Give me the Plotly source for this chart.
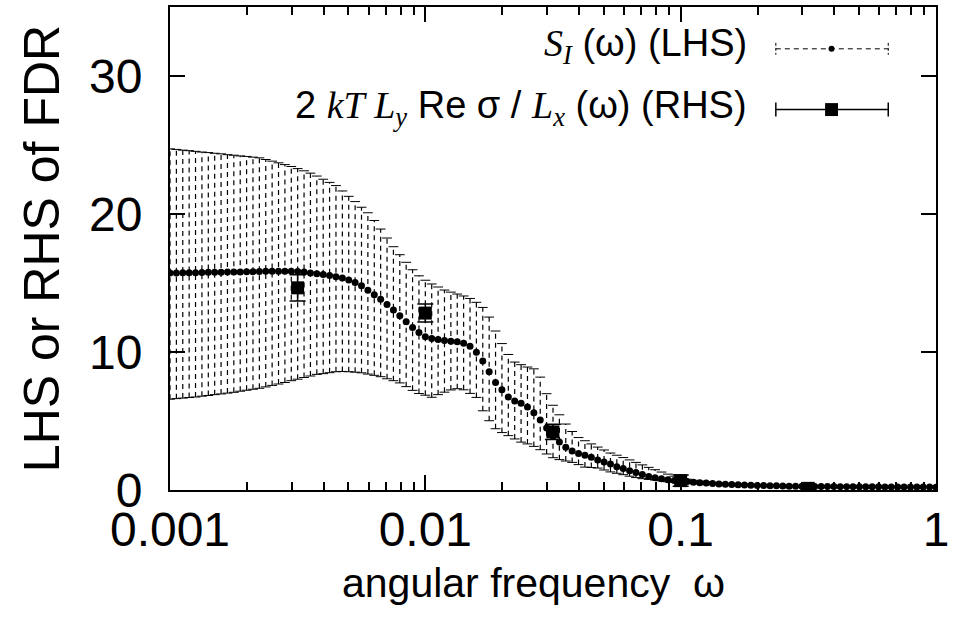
import numpy as np
import plotly.graph_objects as go

# ---------------- data ----------------
# LHS: S_I(omega) sampled on a regular log grid (40 points per decade, 0.001 .. 1)
omega_lhs = np.logspace(-3, 0, 121)

lhs_center = [15.72, 15.73, 15.74, 15.74, 15.75, 15.76, 15.77, 15.77, 15.78, 15.79,
              15.79, 15.80, 15.81, 15.82, 15.83, 15.85, 15.85, 15.86, 15.86, 15.85,
              15.83, 15.79, 15.73, 15.67, 15.61, 15.54, 15.45, 15.36, 15.22, 15.04,
              14.80, 14.48, 14.15, 13.82, 13.45, 13.05, 12.63, 12.19, 11.78, 11.42,
              11.10, 10.97, 10.90, 10.84, 10.77, 10.75, 10.63, 10.42, 9.98, 9.35,
              8.57, 7.79, 7.26, 6.74, 6.45, 6.29, 6.01, 5.60, 5.08, 4.50,
              3.90, 3.47, 3.09, 2.83, 2.65, 2.52, 2.37, 2.18, 2.03, 1.89,
              1.68, 1.55, 1.40, 1.26, 1.12, 0.98, 0.88, 0.81, 0.74, 0.69,
              0.65, 0.61, 0.57, 0.53, 0.50, 0.47, 0.44, 0.42, 0.40, 0.38,
              0.36, 0.35, 0.33, 0.32, 0.31, 0.30, 0.29, 0.28, 0.28, 0.27,
              0.26, 0.26, 0.25, 0.25, 0.25, 0.24, 0.24, 0.24, 0.23, 0.23,
              0.23, 0.23, 0.22, 0.22, 0.22, 0.22, 0.21, 0.21, 0.21, 0.21, 0.20]

lhs_upper = [24.72, 24.68, 24.63, 24.59, 24.54, 24.49, 24.45, 24.40, 24.36, 24.30,
             24.26, 24.21, 24.17, 24.12, 24.07, 23.95, 23.83, 23.71, 23.58, 23.44,
             23.29, 23.13, 22.96, 22.75, 22.52, 22.29, 22.06, 21.67, 21.28, 20.90,
             20.49, 20.09, 19.53, 18.91, 18.26, 17.63, 17.05, 16.50, 15.96, 15.52,
             15.20, 14.93, 14.71, 14.49, 14.34, 14.20, 14.06, 13.88, 13.60, 13.23,
             12.53, 11.52, 10.61, 9.82, 9.27, 9.08, 8.91, 8.78, 8.18, 6.98,
             6.14, 5.45, 4.78, 4.24, 3.80, 3.57, 3.34, 3.11, 2.90, 2.68,
             2.52, 2.35, 2.18, 2.00, 1.82, 1.64, 1.47, 1.30, 1.15, 1.00,
             0.86, 0.78, 0.70, 0.64, 0.59, 0.55, 0.51, 0.48, 0.46, 0.44,
             0.42, 0.40, 0.39, 0.37, 0.36, 0.35, 0.34, 0.33, 0.32, 0.32,
             0.31, 0.31, 0.30, 0.30, 0.29, 0.29, 0.28, 0.28, 0.28, 0.27,
             0.27, 0.27, 0.26, 0.26, 0.26, 0.25, 0.25, 0.25, 0.25, 0.24, 0.24]

lhs_lower = [6.58, 6.62, 6.66, 6.70, 6.74, 6.80, 6.85, 6.91, 6.96, 7.02,
             7.08, 7.16, 7.23, 7.30, 7.37, 7.47, 7.58, 7.68, 7.79, 7.92,
             8.03, 8.15, 8.26, 8.38, 8.43, 8.50, 8.57, 8.59, 8.57, 8.54,
             8.49, 8.40, 8.31, 8.21, 8.06, 7.92, 7.76, 7.49, 7.22, 6.99,
             6.87, 6.72, 6.91, 7.09, 7.25, 7.34, 7.26, 7.00, 6.71, 5.74,
             5.02, 4.44, 4.16, 3.94, 3.70, 3.47, 3.34, 3.16, 2.92, 2.61,
             2.34, 2.20, 2.10, 2.00, 1.84, 1.66, 1.63, 1.59, 1.45, 1.31,
             1.21, 1.11, 1.00, 0.90, 0.82, 0.77, 0.72, 0.66, 0.60, 0.56,
             0.53, 0.49, 0.46, 0.43, 0.40, 0.38, 0.36, 0.34, 0.33, 0.31,
             0.30, 0.29, 0.28, 0.27, 0.26, 0.25, 0.24, 0.24, 0.23, 0.23,
             0.22, 0.22, 0.21, 0.21, 0.21, 0.20, 0.20, 0.20, 0.19, 0.19,
             0.19, 0.19, 0.18, 0.18, 0.18, 0.18, 0.17, 0.17, 0.17, 0.17, 0.16]

# RHS: 2 kT Ly Re sigma / Lx (omega)
omega_rhs = [0.00316, 0.01, 0.0316, 0.1, 0.316]
rhs_value = [14.65, 12.82, 4.21, 0.68, 0.12]
rhs_err = [0.95, 0.65, 0.55, 0.40, 0.05]

x_ticks = [0.001, 0.01, 0.1, 1]
x_ticktext = ["0.001", "0.01", "0.1", "1"]
y_ticks = [0, 10, 20, 30]

x_title = "angular frequency  ω"
y_title = "LHS or RHS of FDR"
legend_lhs = ("<span style='font-family:Liberation Serif'><i>S</i><sub><i>I</i></sub></span>"
              " (ω) (LHS)")
legend_rhs = ("2 <span style='font-family:Liberation Serif'><i>kT</i> <i>L</i><sub><i>y</i></sub></span>"
              " Re σ / <span style='font-family:Liberation Serif'><i>L</i><sub><i>x</i></sub></span>"
              " (ω) (RHS)")

SANS = "Liberation Sans, Arial, sans-serif"

# ---------------- figure ----------------
fig = go.Figure()

# dashed vertical error bars for LHS
seg_x, seg_y = [], []
for xv, lo, hi in zip(omega_lhs, lhs_lower, lhs_upper):
    seg_x += [xv, xv, None]
    seg_y += [lo, hi, None]
fig.add_trace(go.Scatter(x=seg_x, y=seg_y, mode="lines",
                         line=dict(color="black", width=1.2, dash="5px,4px"),
                         hoverinfo="skip", showlegend=False))
# caps of LHS error bars
fig.add_trace(go.Scatter(x=list(omega_lhs) + list(omega_lhs), y=lhs_upper + lhs_lower,
                         mode="markers",
                         marker=dict(symbol="line-ew", size=7, color="black",
                                     line=dict(color="black", width=1)),
                         hoverinfo="skip", showlegend=False))
# LHS points
fig.add_trace(go.Scatter(x=omega_lhs, y=lhs_center, mode="markers",
                         marker=dict(symbol="circle", size=7, color="black"),
                         showlegend=False))
# RHS points with solid error bars
fig.add_trace(go.Scatter(x=omega_rhs, y=rhs_value, mode="markers",
                         marker=dict(symbol="square", size=13, color="black"),
                         error_y=dict(type="data", array=rhs_err, visible=True,
                                      color="black", thickness=1.5, width=8),
                         showlegend=False))

# ---------------- legend (gnuplot style: text left, sample right) ----------------
L, R, T, B = 170, 940, 5, 490
def fx(px):
    return (px - L) / (R - L)
def fy(py):
    return (B - py) / (B - T)

row1, row2 = 47, 108
sx0, sx1, sxm = 779, 892, 835
shapes = []
# sample 1: dashed line with small dashed caps and small dot
shapes.append(dict(type="line", xref="paper", yref="paper", x0=fx(sx0), x1=fx(sx1),
                   y0=fy(row1), y1=fy(row1), line=dict(color="black", width=1, dash="5px,4px")))
for sx in (sx0, sx1):
    shapes.append(dict(type="line", xref="paper", yref="paper", x0=fx(sx), x1=fx(sx),
                       y0=fy(row1 - 6), y1=fy(row1 + 6),
                       line=dict(color="black", width=1, dash="3px,2px")))
shapes.append(dict(type="circle", xref="paper", yref="paper", fillcolor="black",
                   line=dict(color="black", width=0),
                   x0=fx(sxm - 3), x1=fx(sxm + 3), y0=fy(row1 + 3), y1=fy(row1 - 3)))
# sample 2: solid line with caps and square
shapes.append(dict(type="line", xref="paper", yref="paper", x0=fx(sx0), x1=fx(sx1),
                   y0=fy(row2), y1=fy(row2), line=dict(color="black", width=1.5)))
for sx in (sx0, sx1):
    shapes.append(dict(type="line", xref="paper", yref="paper", x0=fx(sx), x1=fx(sx),
                       y0=fy(row2 - 7), y1=fy(row2 + 7), line=dict(color="black", width=1.5)))
shapes.append(dict(type="rect", xref="paper", yref="paper", fillcolor="black",
                   line=dict(color="black", width=0),
                   x0=fx(sxm - 6.5), x1=fx(sxm + 6.5), y0=fy(row2 + 6.5), y1=fy(row2 - 6.5)))

annotations = [
    dict(text=legend_lhs, xref="paper", yref="paper", x=fx(752), y=fy(row1 - 3),
         xanchor="right", yanchor="middle", showarrow=False,
         font=dict(family=SANS, size=38, color="black")),
    dict(text=legend_rhs, xref="paper", yref="paper", x=fx(752), y=fy(row2 - 2),
         xanchor="right", yanchor="middle", showarrow=False,
         font=dict(family=SANS, size=38, color="black")),
    dict(text=x_title, xref="paper", yref="paper", x=fx(535), y=fy(583),
         xanchor="center", yanchor="middle", showarrow=False,
         font=dict(family=SANS, size=41, color="black")),
]

minor_vals = [m * 10.0 ** e for e in (-3, -2, -1) for m in range(2, 10)]

fig.update_layout(
    width=954, height=639,
    margin=dict(l=L, r=954 - R, t=T, b=639 - B),
    paper_bgcolor="white", plot_bgcolor="white",
    font=dict(family=SANS, color="black"),
    shapes=shapes, annotations=annotations,
    xaxis=dict(type="log", range=[-3, 0],
               tickvals=x_ticks, ticktext=x_ticktext,
               ticks="inside", ticklen=15, tickwidth=2, tickcolor="black",
               minor=dict(ticks="inside", ticklen=8, tickwidth=2, tickcolor="black",
                          tickvals=minor_vals, showgrid=False),
               showline=True, linecolor="black", linewidth=2, mirror="ticks",
               showgrid=False, zeroline=False,
               tickfont=dict(size=48), ticklabelstandoff=-4),
    yaxis=dict(range=[0, 35], tickvals=y_ticks,
               ticks="inside", ticklen=15, tickwidth=2, tickcolor="black",
               showline=True, linecolor="black", linewidth=2, mirror="ticks",
               showgrid=False, zeroline=False,
               tickfont=dict(size=48), ticklabelstandoff=16,
               title=dict(text=y_title, font=dict(size=50), standoff=14)),
)

fig.write_html("out.html")
